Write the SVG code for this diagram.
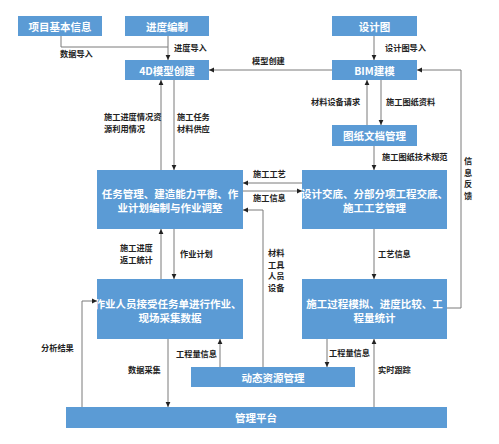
<svg xmlns="http://www.w3.org/2000/svg" width="499" height="444" viewBox="0 0 499 444">
<defs>
<marker id="ah" markerWidth="6" markerHeight="6" refX="5" refY="3" orient="auto" markerUnits="userSpaceOnUse">
<path d="M0,0.6 L5,3 L0,5.4 Z" fill="#222"/>
</marker>
<style>
.box{fill:#5B9BD5;}
.bt{fill:#fff;font-family:"Noto Sans CJK SC","Noto Sans",sans-serif;font-weight:bold;font-size:10.5px;text-anchor:middle;dominant-baseline:central;}
.lb{fill:#222;font-family:"Noto Sans CJK SC","Noto Sans",sans-serif;font-weight:bold;font-size:8.2px;dominant-baseline:central;}
.cn{fill:none;stroke:#7a7a7a;stroke-width:1;}
.ar{marker-end:url(#ah);}
</style>
</defs>
<rect width="499" height="444" fill="#fff"/>

<g id="n-xmjbxx"><rect class="box" x="18" y="16" width="84" height="20"/><text class="bt" x="60" y="26">项目基本信息</text></g>
<g id="n-jdbz"><rect class="box" x="125" y="16" width="84" height="20"/><text class="bt" x="167" y="26">进度编制</text></g>
<g id="n-sjt"><rect class="box" x="332" y="16" width="85" height="20"/><text class="bt" x="374.5" y="26">设计图</text></g>
<g id="n-4d"><rect class="box" x="125" y="60" width="84" height="20"/><text class="bt" x="167" y="70">4D模型创建</text></g>
<g id="n-bim"><rect class="box" x="332" y="60" width="85" height="20"/><text class="bt" x="374.5" y="70">BIM建模</text></g>
<g id="n-tzwd"><rect class="box" x="332" y="125" width="85" height="21"/><text class="bt" x="374.5" y="135.5">图纸文档管理</text></g>
<g id="n-task"><rect class="box" x="97" y="170" width="146" height="59"/><text class="bt" x="170" y="193">任务管理、建造能力平衡、作</text><text class="bt" x="170" y="207">业计划编制与作业调整</text></g>
<g id="n-design"><rect class="box" x="302" y="170" width="145" height="59"/><text class="bt" x="374.5" y="193">设计交底、分部分项工程交底、</text><text class="bt" x="374.5" y="207">施工工艺管理</text></g>
<g id="n-worker"><rect class="box" x="97" y="279" width="146" height="60"/><text class="bt" x="168" y="303">作业人员接受任务单进行作业、</text><text class="bt" x="170" y="317">现场采集数据</text></g>
<g id="n-sim"><rect class="box" x="302" y="279" width="145" height="60"/><text class="bt" x="374.5" y="303">施工过程模拟、进度比较、工</text><text class="bt" x="374.5" y="317">程量统计</text></g>
<g id="n-dtzy"><rect class="box" x="191" y="367" width="164" height="20"/><text class="bt" x="273" y="377">动态资源管理</text></g>
<g id="n-glpt"><rect class="box" x="66" y="407" width="381" height="21"/><text class="bt" x="256" y="417.5">管理平台</text></g>

<g id="connectors">
<polyline class="cn" points="61,36 61,47 168,47"/>
<line class="cn ar" x1="168" y1="36" x2="168" y2="60"/>
<line class="cn ar" x1="332" y1="70" x2="209" y2="70"/>
<line class="cn ar" x1="374" y1="36" x2="374" y2="60"/>
<line class="cn ar" x1="367" y1="125" x2="367" y2="80"/>
<line class="cn ar" x1="381" y1="80" x2="381" y2="125"/>
<line class="cn ar" x1="374" y1="146" x2="374" y2="170"/>
<line class="cn ar" x1="161" y1="170" x2="161" y2="80"/>
<line class="cn ar" x1="174" y1="80" x2="174" y2="170"/>
<line class="cn ar" x1="302" y1="183" x2="243" y2="183"/>
<line class="cn ar" x1="243" y1="191" x2="302" y2="191"/>
<polyline class="cn ar" points="263,367 263,210 243,210"/>
<line class="cn ar" x1="374" y1="229" x2="374" y2="279"/>
<line class="cn ar" x1="161" y1="279" x2="161" y2="229"/>
<line class="cn ar" x1="174" y1="229" x2="174" y2="279"/>
<polyline class="cn ar" points="447,308 461,308 461,70 417,70"/>
<polyline class="cn ar" points="82,407 82,301 97,301"/>
<line class="cn ar" x1="168" y1="339" x2="168" y2="407"/>
<line class="cn ar" x1="220" y1="367" x2="220" y2="339"/>
<line class="cn ar" x1="327" y1="339" x2="327" y2="367"/>
<line class="cn ar" x1="374" y1="407" x2="374" y2="339"/>
</g>

<g id="labels">
<text class="lb" x="60" y="53">数据导入</text>
<text class="lb" x="174" y="47">进度导入</text>
<text class="lb" x="252" y="60">模型创建</text>
<text class="lb" x="385" y="47">设计图导入</text>
<text class="lb" x="311" y="101">材料设备请求</text>
<text class="lb" x="386" y="101">施工图纸资料</text>
<text class="lb" x="104" y="116">施工进度情况资</text>
<text class="lb" x="104" y="127.5">源利用情况</text>
<text class="lb" x="177" y="116">施工任务</text>
<text class="lb" x="177" y="127.5">材料供应</text>
<text class="lb" x="382" y="156">施工图纸技术规范</text>
<text class="lb" x="253" y="173">施工工艺</text>
<text class="lb" x="253" y="197">施工信息</text>
<text class="lb" x="464" y="160">信</text>
<text class="lb" x="464" y="171.5">息</text>
<text class="lb" x="464" y="183">反</text>
<text class="lb" x="464" y="194.5">馈</text>
<text class="lb" x="120" y="246.5">施工进度</text>
<text class="lb" x="120" y="258.5">返工统计</text>
<text class="lb" x="180" y="253">作业计划</text>
<text class="lb" x="268" y="252">材料</text>
<text class="lb" x="268" y="263.5">工具</text>
<text class="lb" x="268" y="275">人员</text>
<text class="lb" x="268" y="286.5">设备</text>
<text class="lb" x="378" y="253">工艺信息</text>
<text class="lb" x="41" y="347">分析结果</text>
<text class="lb" x="128" y="369">数据采集</text>
<text class="lb" x="176" y="353">工程量信息</text>
<text class="lb" x="329" y="352">工程量信息</text>
<text class="lb" x="378" y="369">实时跟踪</text>
</g>
</svg>
